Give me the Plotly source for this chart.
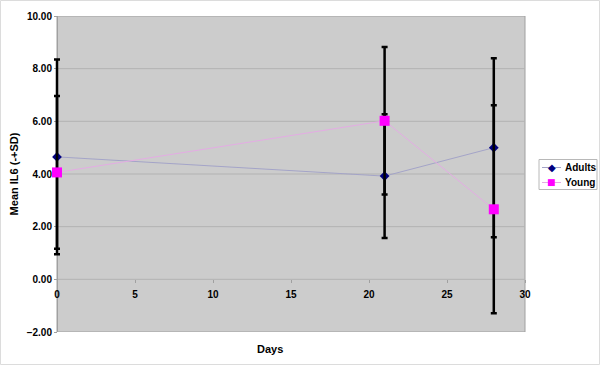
import plotly.graph_objects as go

days = [0, 21, 28]
adults_mean = [4.65, 3.92, 5.00]
adults_sd = [3.70, 2.35, 3.40]
young_mean = [4.06, 6.02, 2.66]
young_sd = [2.90, 2.80, 3.95]
y_ticks = [-2, 0, 2, 4, 6, 8, 10]
x_ticks = [0, 5, 10, 15, 20, 25, 30]
series_names = ["Adults", "Young"]
series_colors = ["#000080", "#ff00ff"]
line_colors = ["#a4a4c8", "#e4ace4"]
legend_glyphs = ["\u25C6", "\u25A0"]

font = "Liberation Sans, Arial, sans-serif"
W, H = 600, 365
L, R, T, B = 52, 70, 16, 33
PW, PH = W - L - R, H - T - B
XMIN, XMAX = 0, 30
YMIN, YMAX = -2, 10
pad = 5 / (468 / (XMAX - XMIN))  # extra range so bars at the edge are not clipped


def px(x):
    return (x - L) / PW


def py(y):
    return (H - B - y) / PH


fig = go.Figure()
for name, m, sd, c, lc, sym, sz in zip(series_names, [adults_mean, young_mean], [adults_sd, young_sd],
                                       series_colors, line_colors, ["diamond", "square"], [7.5, 10]):
    fig.add_trace(go.Scatter(
        x=days, y=m, name=name, mode="lines+markers", cliponaxis=False, showlegend=False,
        line=dict(color=lc, width=1),
        marker=dict(symbol=sym, color=c, size=sz),
        error_y=dict(type="data", array=sd, visible=True, color="black", thickness=2.5, width=3),
    ))

# plot area background, border and gridlines (through the data axes)
fig.add_shape(type="rect", xref="x", yref="y", x0=XMIN, x1=XMAX, y0=YMIN, y1=YMAX,
              fillcolor="#cccccc", line=dict(color="#a0a0a0", width=1), layer="below")
for v in y_ticks[1:-1]:
    fig.add_shape(type="line", xref="x", yref="y", x0=XMIN, x1=XMAX, y0=v, y1=v,
                  line=dict(color="#b2b2b2", width=1), layer="below")

fig.update_layout(
    width=W, height=H,
    margin=dict(l=L, r=R, t=T, b=B, autoexpand=False),
    paper_bgcolor="white", plot_bgcolor="white",
    font=dict(family=font, size=10, color="black"),
    showlegend=False,
    xaxis=dict(range=[XMIN - pad, XMAX + pad], tickvals=x_ticks, showgrid=False, zeroline=False,
               anchor="free", position=(0 - YMIN) / (YMAX - YMIN), showline=False,
               ticks="outside", ticklen=3, tickcolor="#a0a0a0", ticklabelstandoff=3,
               layer="below traces",
               tickfont=dict(family=font, size=10, weight="bold")),
    yaxis=dict(range=[YMIN, YMAX], tickvals=y_ticks, tickformat=".2f",
               showgrid=False, zeroline=False, anchor="free", position=pad / (XMAX - XMIN + 2 * pad),
               showline=True, linecolor="#a0a0a0", layer="below traces",
               ticks="outside", ticklen=3, tickcolor="#a0a0a0",
               tickfont=dict(family=font, size=10, weight="bold"),
               title=dict(text="Mean IL6 (-+SD)", standoff=4,
                          font=dict(family=font, size=11, weight="bold"))),
)
fig.add_annotation(text="Days", xref="paper", yref="paper", x=px(270), y=py(349),
                   showarrow=False, xanchor="center", yanchor="middle",
                   font=dict(family=font, size=11, color="black", weight="bold"))

# chart border
fig.add_shape(type="rect", xref="paper", yref="paper",
              x0=px(0.5), x1=px(W - 0.5), y0=py(H - 0.5), y1=py(0.5),
              line=dict(color="#dcdcdc", width=1), layer="below")

# legend
fig.add_shape(type="rect", xref="paper", yref="paper", x0=px(539), x1=px(597), y0=py(189.5), y1=py(159.5),
              fillcolor="white", line=dict(color="#b8b8b8", width=1))
for i, (name, c, lc, g) in enumerate(zip(series_names, series_colors, line_colors, legend_glyphs)):
    yc = 167.5 + 15 * i
    fig.add_shape(type="line", xref="paper", yref="paper", x0=px(542), x1=px(561), y0=py(yc), y1=py(yc),
                  line=dict(color=lc, width=1))
    fig.add_annotation(text=g, xref="paper", yref="paper", x=px(551.5), y=py(yc),
                       showarrow=False, xanchor="center", yanchor="middle",
                       font=dict(family="DejaVu Sans", size=10 if i == 0 else 9, color=c))
    fig.add_annotation(text=name, xref="paper", yref="paper", x=px(563), y=py(yc),
                       showarrow=False, xanchor="left", yanchor="middle",
                       font=dict(family=font, size=10, color="black", weight="bold"))

fig.write_html("out.html")
